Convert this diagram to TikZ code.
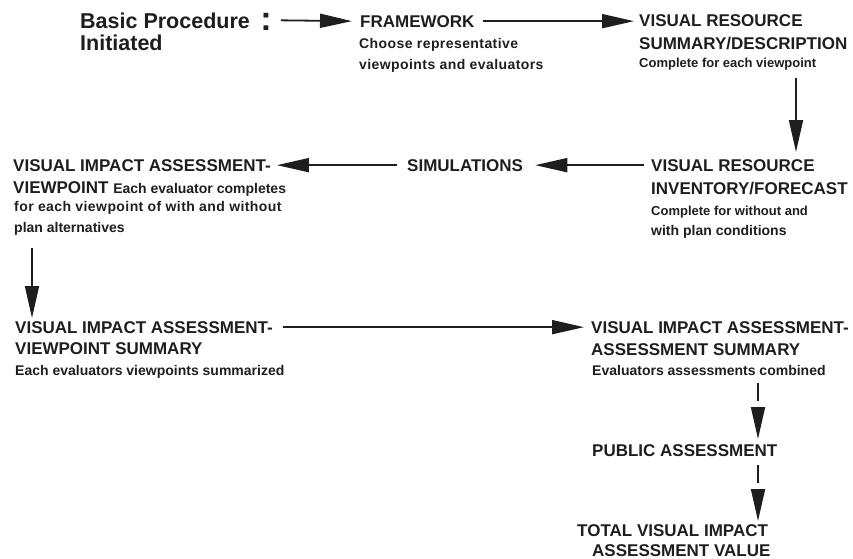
\documentclass[tikz,border=0pt]{standalone}
\usepackage{fontspec}
\setmainfont{Liberation Sans}
\usetikzlibrary{arrows.meta}
\definecolor{ink}{HTML}{1E1E1E}
\newcommand{\sbf}{\fontsize{14}{16}\selectfont\bfseries}
\tikzset{
  hd/.style={anchor=base west, inner sep=0pt, text=ink, font=\fontsize{17}{20}\selectfont\bfseries},
  sb/.style={anchor=base west, inner sep=0pt, text=ink, font=\sbf},
  sbs/.style={anchor=base west, inner sep=0pt, text=ink, font=\fontsize{13}{15}\selectfont\bfseries},
  sbw/.style={anchor=base west, inner sep=0pt, text=ink, font=\sbf\addfontfeature{LetterSpace=3}},
  bigt/.style={anchor=base west, inner sep=0pt, text=ink, font=\fontsize{21.5}{24}\selectfont\bfseries},
  arr/.style={line width=1.8pt, draw=ink, -{Triangle[length=32pt,width=14pt]}},
  darr/.style={arr, dash pattern=on 18pt off 6pt on 60pt}
}
\begin{document}
\begin{tikzpicture}[x=1pt,y=-1pt]
\useasboundingbox (0,0) rectangle (853,558);
% Basic procedure
\node[bigt] (bp1) at (80,28) {Basic Procedure};
\node[bigt] (bp2) at (80,50) {Initiated};
\node[anchor=base, inner sep=0pt, text=ink, font=\fontsize{34}{34}\selectfont\bfseries] (colon) at (266,30) {:};
% Framework
\node[hd] (fw1) at (360,27) {FRAMEWORK};
\node[sbw] (fw2) at (359,48) {Choose representative};
\node[sbw] (fw3) at (359,69) {viewpoints and evaluators};
% Visual resource summary
\node[hd] (vr1) at (639,26) {VISUAL RESOURCE};
\node[hd] (vr2) at (639,49) {SUMMARY/DESCRIPTION};
\node[sbs] (vr3) at (639,67) {Complete for each viewpoint};
% Visual resource inventory
\node[hd] (vi1) at (651,171) {VISUAL RESOURCE};
\node[hd] (vi2) at (651,194) {INVENTORY/FORECAST};
\node[sbs] (vi3) at (651,215) {Complete for without and};
\node[sb] (vi4) at (651,235) {with plan conditions};
% Simulations
\node[hd] (sim) at (407,171) {SIMULATIONS};
% VIA viewpoint
\node[hd] (va1) at (13,171) {VISUAL IMPACT ASSESSMENT-};
\node[hd] (va2) at (13,193) {VIEWPOINT {\sbf Each evaluator completes}};
\node[sbw] (va3) at (14,211) {for each viewpoint of with and without};
\node[sb] (va4) at (14,232) {plan alternatives};
% VIA viewpoint summary
\node[hd] (vs1) at (15,333) {VISUAL IMPACT ASSESSMENT-};
\node[hd] (vs2) at (15,354) {VIEWPOINT SUMMARY};
\node[sb] (vs3) at (15,375) {Each evaluators viewpoints summarized};
% VIA assessment summary
\node[hd] (as1) at (591,333) {VISUAL IMPACT ASSESSMENT-};
\node[hd] (as2) at (591,355) {ASSESSMENT SUMMARY};
\node[sb] (as3) at (592,375) {Evaluators assessments combined};
% Public
\node[hd] (pub) at (592,456) {PUBLIC ASSESSMENT};
% Total
\node[hd] (tot1) at (577,536) {TOTAL VISUAL IMPACT};
\node[hd] (tot2) at (592,556) {ASSESSMENT VALUE};
% coordinates for vertical connectors
\coordinate (d1a) at (796,78);
\coordinate (d1b) at (796,152);
\coordinate (d2a) at (32,248);
\coordinate (d2b) at (32,318);
\coordinate (d3a) at (758,383);
\coordinate (d3b) at (758,439);
\coordinate (d4a) at (758,465);
\coordinate (d4b) at (758,521);
% connectors
\draw[arr] ([xshift=9pt]colon.east |- bp1.center) -- ([xshift=-8pt]fw1.west);
\draw[arr] ([xshift=8pt]fw1.east) -- ([xshift=-5pt]fw1.east -| vr1.west);
\draw[arr] (d1a) -- (d1b);
\draw[arr] ([xshift=-7pt]vi1.west) -- ([xshift=12pt]sim.east);
\draw[arr] ([xshift=-10pt]sim.west) -- ([xshift=6pt]va1.east);
\draw[arr] (d2a) -- (d2b);
\draw[arr] ([xshift=10pt]vs1.east) -- ([xshift=-7pt]vs1.east -| as1.west);
\draw[darr] (d3a) -- (d3b);
\draw[darr] (d4a) -- (d4b);
\end{tikzpicture}
\end{document}
